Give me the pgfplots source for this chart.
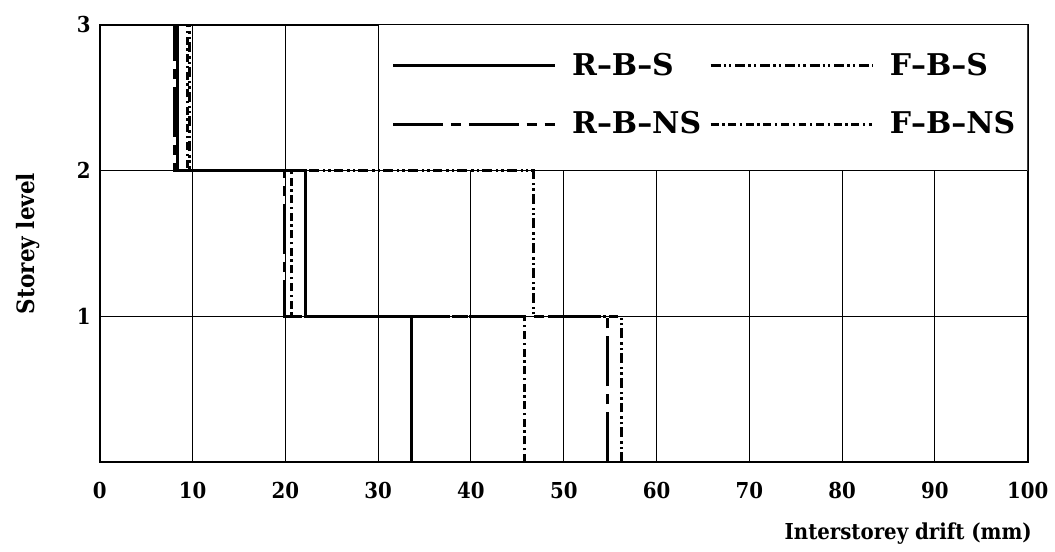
\documentclass[border=0pt]{standalone}
\usepackage{fontspec}
\setmainfont{DejaVu Serif}
\newfontfamily\condf{DejaVu Serif Condensed}
\usepackage{pgfplots}
\pgfplotsset{compat=1.18}
\begin{document}
\begin{tikzpicture}
\begin{axis}[
  name=ax,
  scale only axis,
  width=465pt, height=219pt,
  xmin=0, xmax=100, ymin=0, ymax=3,
  xtick={0,10,...,100}, ytick={1,2,3},
  grid=major,
  major grid style={black, line width=0.5pt},
  major tick length=0pt,
  axis line style={line width=1pt},
  /pgf/number format/assume math mode=true,
  tick label style={font=\condf\bfseries\fontsize{11}{13}\selectfont},
  xticklabel style={yshift=-6.5pt},
  yticklabel style={xshift=-1pt},
  xlabel={Interstorey drift (mm)},
  ylabel={Storey level},
  xlabel style={font=\condf\bfseries\fontsize{11}{13}\selectfont,
    at={(axis description cs:1.012,-0.164)}, anchor=east},
  ylabel style={font=\condf\bfseries\fontsize{12}{14}\selectfont,
    at={(axis description cs:-0.0774,0.5)}, anchor=center},
  legend columns=2,
  legend cell align=left,
  legend image code/.code={\draw[#1] (0pt,0pt) -- (81pt,0pt);},
  legend style={draw=none, fill=none,
    at={(rel axis cs:0.3,1)}, anchor=north west,
    font=\bfseries\fontsize{15}{17}\selectfont,
    inner xsep=6.5pt, inner ysep=12pt, row sep=12.5pt,
    /tikz/every odd column/.append style={column sep=6pt},
    /tikz/every even column/.append style={column sep=2pt}},
]
% white box behind the legend
\fill[white] (axis cs:30,2) rectangle (axis cs:100,3);
\draw[black, line width=0.5pt] (axis cs:30,2) rectangle (axis cs:100,3);

% R-B-S
\addplot[black, line width=1.5pt] coordinates {
  (33.6,0) (33.6,1) (22.2,1) (22.2,2) (8.4,2) (8.4,3)
};
% F-B-S
\addplot[black, line width=1.5pt,
  dash pattern=on 5pt off 1.5pt on 1.2pt off 1.5pt on 1.2pt off 2pt] coordinates {
  (56.2,0) (56.2,1) (46.7,1) (46.7,2) (9.7,2) (9.7,3)
};
% R-B-NS
\addplot[black, line width=1.5pt,
  dash pattern=on 25pt off 4pt on 5pt off 4pt] coordinates {
  (54.7,0) (54.7,1) (19.9,1) (19.9,2) (8.0,2) (8.0,3)
};
% F-B-NS
\addplot[black, line width=1.5pt,
  dash pattern=on 4pt off 1.8pt on 1.2pt off 1.8pt] coordinates {
  (45.8,0) (45.8,1) (20.7,1) (20.7,2) (9.4,2) (9.4,3)
};
\legend{R--B--S, F--B--S, R--B--NS, F--B--NS}
\end{axis}
\path (ax.south west) ++(-50pt,-44.5pt) rectangle ++(527.5pt,276pt);
\end{tikzpicture}
\end{document}
